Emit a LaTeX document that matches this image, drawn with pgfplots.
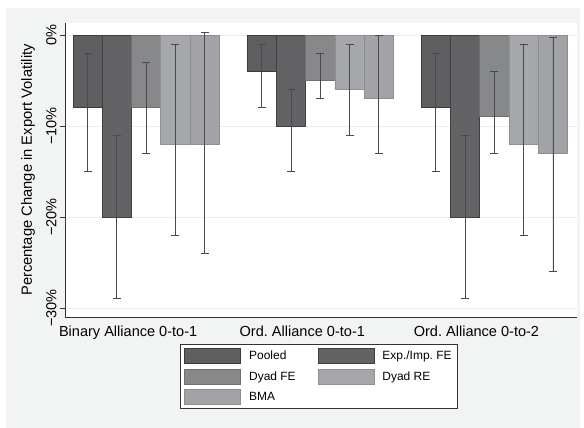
\documentclass[border=0pt]{standalone}
\usepackage{pgfplots}
\pgfplotsset{compat=1.18}
\usepackage{fontspec}
\setmainfont{Liberation Sans}
\frenchspacing
\definecolor{cpooled}{HTML}{5F5F61}
\definecolor{dpooled}{HTML}{3A3A3C}
\definecolor{cexp}{HTML}{636365}
\definecolor{dexp}{HTML}{3F3F41}
\definecolor{cfe}{HTML}{87888A}
\definecolor{dfe}{HTML}{6F7072}
\definecolor{cre}{HTML}{A6A7AA}
\definecolor{dre}{HTML}{8F9093}
\definecolor{cbma}{HTML}{A2A3A6}
\definecolor{dbma}{HTML}{8C8D90}
\definecolor{cerr}{HTML}{4A4A4C}
\definecolor{outer}{HTML}{F2F3F3}
\newcommand{\legfont}{\fontsize{12}{14}\selectfont}
\begin{document}
\frenchspacing
\begin{tikzpicture}
\fill[white] (0bp,0bp) rectangle (584bp,428bp);
\fill[outer] (6bp,0bp) rectangle (580bp,420bp);
\begin{axis}[
  at={(65bp,111bp)}, anchor=south west,
  scale only axis, width=512bp, height=294bp,
  xmin=-0.466, xmax=2.474, ymin=-31, ymax=1.32,
  ybar=0pt, bar width=0.168,
  axis background/.style={fill=white},
  axis x line*=bottom, axis y line*=left,
  axis line style={-, draw=black!80, line width=0.9bp},
  xtick={0,1,2},
  xticklabels={Binary Alliance 0-to-1, Ord. Alliance 0-to-1, Ord. Alliance 0-to-2},
  xtick style={draw=none},
  xticklabel style={xshift=-18bp},
  ytick={-30,-20,-10,0},
  yticklabels={−30\%,−20\%,−10\%,0\%},
  tick align=outside, major tick length=5bp,
  ytick style={draw=black!80, line width=0.8bp},
  yticklabel style={rotate=90, anchor=south},
  ticklabel style={font=\fontsize{14.6}{16}\selectfont},
  ymajorgrids, grid style={color=black!7, line width=0.8bp},
  ylabel={Percentage Change in Export Volatility},
  ylabel style={font=\fontsize{14.8}{16}\selectfont, at={(axis description cs:-0.0723,0.5)}, anchor=center},
  error bars/error bar style={color=cerr, line width=0.9bp},
  error bars/error mark options={rotate=90, mark size=4bp, line width=0.9bp, color=cerr},
  legend columns=2,
  legend cell align=left,
  legend image code/.code={\draw[#1] (0bp,-7.5bp) rectangle (56bp,7.5bp);},
  legend style={at={(0.2246,-0.0918)}, anchor=north west, draw=black!80, line width=0.8bp, fill=white,
    font=\legfont, nodes={font=\legfont}, inner xsep=4bp, inner ysep=4bp, row sep=4.5bp,
    /tikz/every odd column/.append style={column sep=6bp},
    /tikz/every even column/.append style={column sep=20bp}},
]
\addplot[fill=cpooled, draw=dpooled, line width=0.8bp,
  error bars/.cd, y dir=both, y explicit]
  table[x=x, y=y, y error plus=ep, y error minus=em] {
x y ep em
0 -8 6 7
1 -4 3 4
2 -8 6 7
};
\addlegendentry{Pooled}
\addplot[fill=cexp, draw=dexp, line width=0.8bp,
  error bars/.cd, y dir=both, y explicit]
  table[x=x, y=y, y error plus=ep, y error minus=em] {
x y ep em
0 -20 9 9
1 -10 4 5
2 -20 9 9
};
\addlegendentry{Exp./Imp. FE}
\addplot[fill=cfe, draw=dfe, line width=0.8bp,
  error bars/.cd, y dir=both, y explicit]
  table[x=x, y=y, y error plus=ep, y error minus=em] {
x y ep em
0 -8 5 5
1 -5 3 2
2 -9 5 4
};
\addlegendentry{Dyad FE}
\addplot[fill=cre, draw=dre, line width=0.8bp,
  error bars/.cd, y dir=both, y explicit]
  table[x=x, y=y, y error plus=ep, y error minus=em] {
x y ep em
0 -12 11 10
1 -6 5 5
2 -12 11 10
};
\addlegendentry{Dyad RE}
\addplot[fill=cbma, draw=dbma, line width=0.8bp,
  error bars/.cd, y dir=both, y explicit]
  table[x=x, y=y, y error plus=ep, y error minus=em] {
x y ep em
0 -12 12.3 12
1 -7 6.9 6
2 -13 12.7 13
};
\addlegendentry{BMA}
\end{axis}
\end{tikzpicture}
\end{document}
